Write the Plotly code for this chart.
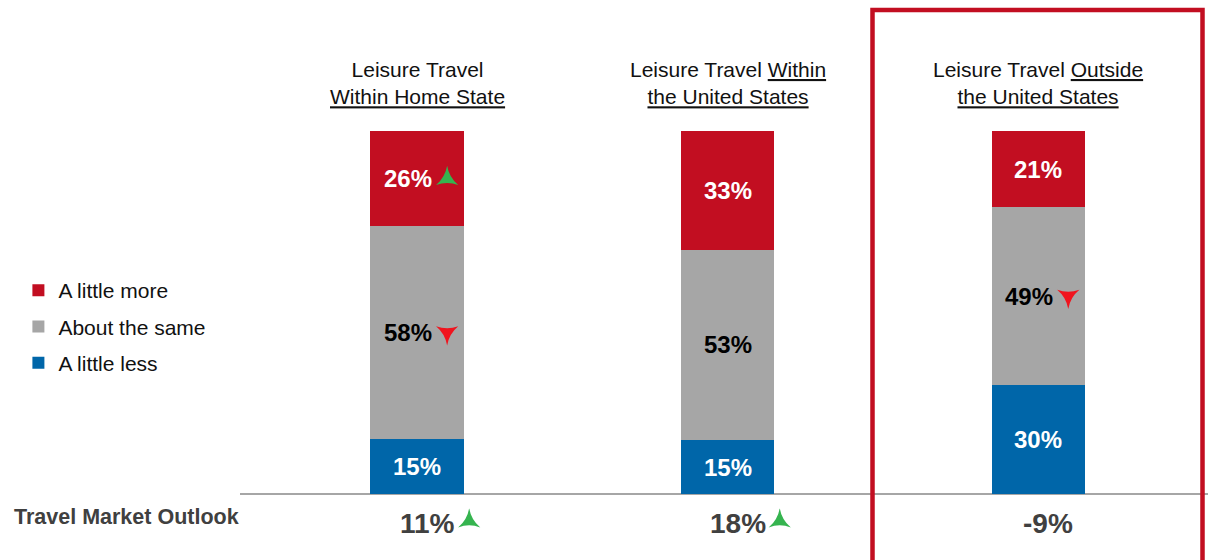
import plotly.graph_objects as go
import numpy as np

# ---------------- data ----------------
categories = ["Within Home State", "Within the United States", "Outside the United States"]
title_text = [
    "Leisure Travel<br><u>Within Home State</u>",
    "Leisure Travel <u>Within</u><br><u>the United States</u>",
    "Leisure Travel <u>Outside</u><br><u>the United States</u>",
]
series_names = ["A little less", "About the same", "A little more"]
less = [15, 15, 30]
same = [58, 53, 49]
more = [26, 33, 21]
less_change = [None, None, None]
same_change = ["down", None, "down"]
more_change = ["up", None, None]
outlook = [11, 18, -9]
outlook_change = ["up", "up", None]
outlook_label = "Travel Market Outlook"

# ---------------- styles ----------------
RED = "#C20E21"
GRAY = "#A6A6A6"
BLUE = "#0066A9"
UP_COLOR = "#35B44F"
DOWN_COLOR = "#F0141E"
FONT = "Liberation Sans, Arial, sans-serif"

W, H = 1208, 560
L, T = 240, 131          # plot area left / top (px)
BASE = 494               # pixel row of the 0 baseline
UNIT = (BASE - T) / 100  # px per percent
Y_MIN = -(H - BASE) / UNIT


def px_paper_y(p):
    return (H - p) / (H - T)


def px_paper_x(p):
    return (p - L) / (W - L)


x_idx = np.arange(len(categories))
vals = np.array([less, same, more], dtype=float)
totals = vals.sum(axis=0)
shares = vals / totals * 100  # normalised stack heights
cum = np.cumsum(shares, axis=0)
mids = cum - shares / 2
colors = [BLUE, GRAY, RED]
text_colors = ["white", "black", "white"]
changes = [less_change, same_change, more_change]

fig = go.Figure()
for k in range(3):
    fig.add_trace(go.Bar(
        x=x_idx, y=shares[k], name=series_names[k],
        marker=dict(color=colors[k], line=dict(width=0)),
        width=0.3, hoverinfo="skip",
        legendgroup=series_names[k], legendrank=1000 - k,
    ))
    for i in range(len(categories)):
        fig.add_annotation(
            x=x_idx[i], y=mids[k, i], xref="x", yref="y",
            text=f"{int(vals[k, i])}%", showarrow=False,
            xshift=-9 if changes[k][i] else 0,
            font=dict(family=FONT, size=24, color=text_colors[k], weight="bold"),
        )

# baseline
fig.add_shape(type="line", xref="paper", yref="y", x0=0, x1=1, y0=0, y1=0,
              line=dict(color="#A6A6A6", width=2), layer="below")

# change arrows
out_y = -(523 - BASE) / UNIT
arr_y = -(521 - BASE) / UNIT
ax, ay, acol, aang = [], [], [], []
for k in range(3):
    for i in range(len(categories)):
        c = changes[k][i]
        if c:
            ax.append(x_idx[i] + 0.097)
            ay.append(mids[k, i])
            acol.append(UP_COLOR if c == "up" else DOWN_COLOR)
            aang.append(0 if c == "up" else 180)
for i in range(len(categories)):
    c = outlook_change[i]
    if c:
        ax.append(x_idx[i] + 0.168)
        ay.append(arr_y)
        acol.append(UP_COLOR if c == "up" else DOWN_COLOR)
        aang.append(0 if c == "up" else 180)
fig.add_trace(go.Scatter(
    x=ax, y=ay, mode="markers", showlegend=False, hoverinfo="skip",
    cliponaxis=False,
    marker=dict(symbol="star-triangle-up", size=16, color=acol, angle=aang,
                line=dict(width=0)),
))

# titles
for i in range(len(categories)):
    fig.add_annotation(x=x_idx[i], y=px_paper_y(82.5), xref="x", yref="paper",
                       text=title_text[i], showarrow=False, yanchor="middle",
                       font=dict(family=FONT, size=21, color="#111111"))
# outlook values
for i, v in enumerate(outlook):
    fig.add_annotation(x=x_idx[i], y=out_y, xref="x", yref="y",
                       text=f"{v}%", showarrow=False, yanchor="middle",
                       xshift=10,
                       font=dict(family=FONT, size=28, color="#404040", weight="bold"))
fig.add_annotation(x=px_paper_x(12), y=-(517 - BASE) / UNIT, xref="paper", yref="y",
                   text=outlook_label, showarrow=False, xanchor="left", yanchor="middle",
                   font=dict(family=FONT, size=21.5, color="#404040", weight="bold"))

# highlight frame
fig.add_shape(type="rect", xref="paper", yref="paper",
              x0=px_paper_x(872.5), x1=px_paper_x(1202.5),
              y0=px_paper_y(575), y1=px_paper_y(10),
              line=dict(color=RED, width=4.5), fillcolor="rgba(0,0,0,0)")

fig.update_layout(
    width=W, height=H,
    margin=dict(l=L, r=0, t=T, b=0, pad=0),
    paper_bgcolor="white", plot_bgcolor="white",
    barmode="stack", bargap=0,
    font=dict(family=FONT),
    showlegend=True,
    legend=dict(x=px_paper_x(18.4), y=px_paper_y(270), xanchor="left", yanchor="top",
                traceorder="grouped",
                font=dict(family=FONT, size=21, color="#111111"),
                tracegroupgap=6, bgcolor="rgba(0,0,0,0)"),
    xaxis=dict(range=[-0.57, 2.547], visible=False, fixedrange=True),
    yaxis=dict(range=[Y_MIN, 100], visible=False, fixedrange=True),
)

fig.write_html("out.html", config={"displayModeBar": False},
               post_script="document.body.style.margin='0px';document.body.style.overflow='hidden';")
